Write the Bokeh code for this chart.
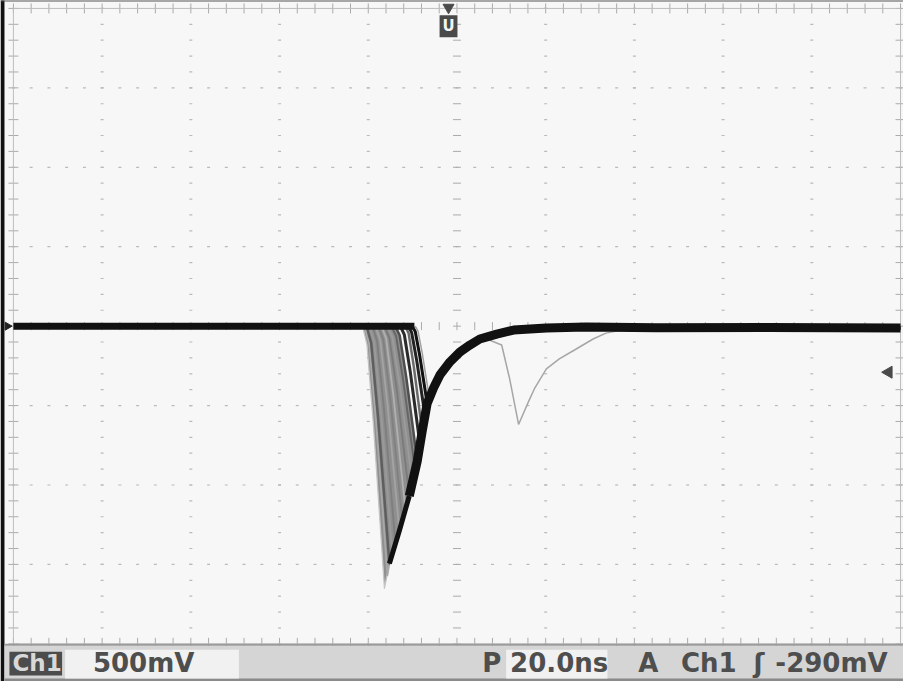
import numpy as np
from bokeh.plotting import figure
from bokeh.models import Range1d
from bokeh.core.properties import value
from bokeh.embed import file_html
from bokeh.resources import INLINE

# ---------------- data (time in ns, voltage in V) ----------------
baseline_t = [-100.0, -9.6]
baseline_v = [0.0, 0.0]

pulse_onset_t = [-21.28, -20.83, -20.38, -19.71, -19.04, -18.37, -17.70, -17.02, -16.35,
                 -15.68, -14.78, -13.89, -12.77, -11.65, -10.98, -10.08, -9.41]
pulse_min_t = [-16.35, -15.68, -15.23, -14.56, -13.89, -12.99, -12.32, -11.65, -10.75,
               -10.08, -9.41, -8.96, -8.29, -7.84, -7.17, -6.72, -6.27]
pulse_min_v = [-1.65, -1.569, -1.494, -1.431, -1.3625, -1.2875, -1.225, -1.15, -1.069,
               -0.9875, -0.9125, -0.85, -0.756, -0.6625, -0.569, -0.4875, -0.444]
pulse_color = ["#c4c4c4", "#a8a8a8", "#5e5e5e", "#9a9a9a", "#7e7e7e", "#a4a4a4", "#808080",
               "#b0b0b0", "#7a7a7a", "#9c9c9c", "#666666", "#4e4e4e", "#2a2a2a", "#6a6a6a",
               "#222222", "#111111", "#a0a0a0"]
pulse_width = [1.3, 1.8, 2.5, 1.8, 1.8, 1.8, 1.8, 1.8, 1.8, 1.8, 2.0, 2.5, 3.0, 2.5, 3.0, 3.0, 1.5]

fall_shape_dt = [0.0, 0.2, 0.5, 0.8, 1.0]
fall_shape_dv = [0.0, 0.07, 0.38, 0.75, 1.0]

recovery_t = [-16.35, -15.23, -12.99, -10.75, -8.96, -7.84, -6.72, -5.15, -3.81, -1.57, 0.67,
              2.91, 5.15, 8.96, 12.77, 20.16, 29.1, 45.0, 70.0, 100.0]
recovery_v = [-1.65, -1.494, -1.288, -1.069, -0.85, -0.6625, -0.4875, -0.381, -0.306, -0.225,
              -0.1625, -0.119, -0.081, -0.05, -0.025, -0.0125, -0.006, -0.01, -0.008, -0.012]

glitch_t = [6.72, 10.08, 11.87, 13.89, 16.13, 17.47, 20.16, 23.07, 26.88, 30.69, 33.6, 38.08]
glitch_v = [-0.081, -0.119, -0.331, -0.619, -0.475, -0.394, -0.269, -0.206, -0.144, -0.081,
            -0.044, -0.019]

trigger_level_v = -0.29
trigger_pos_t = -1.9

div_major_t = [-80, -60, -40, -20, 20, 40, 60, 80]
div_major_v = [-1.5, -1.0, -0.5, 0.5, 1.0, 1.5]

status_ch = "Ch1"
status_scale = "500mV"
status_p = "P"
status_time = "20.0ns"
status_a = "A"
status_trig_ch = "Ch1"
status_slope = "ʃ"
status_trig = "-290mV"

# ---------------- helpers: reference-pixel layout -> data ----------------
def rx(px):
    return -100 + (px - 23) * 200.0 / 893.0

def ry(py):
    return 2 - (py - 14) * 4.0 / 641.0

W, H = 903, 681
p = figure(width=W, height=H, x_range=Range1d(rx(10), rx(919)), y_range=Range1d(ry(693), ry(6)),
           output_backend="svg", toolbar_location=None, x_axis_location=None,
           y_axis_location=None, min_border=0, outline_line_color=None,
           background_fill_color="#f7f7f7", border_fill_color="#ffffff")
p.grid.visible = False

# graticule dots
minor_t = np.round(np.arange(-100, 100.001, 4), 3)
minor_v = np.round(np.arange(-2, 2.0001, 0.1), 3)
gx = np.repeat(div_major_t, len(minor_v))
gy = np.tile(minor_v, len(div_major_t))
p.scatter(gx, gy, marker="dash", size=3, line_color="#bababa", line_width=1.2)
hx = np.tile(minor_t, len(div_major_v))
hy = np.repeat(div_major_v, len(minor_t))
p.scatter(hx, hy, marker="dash", size=3, line_color="#bababa", line_width=1.2)

# centre cross ticks
p.scatter(minor_t, np.zeros_like(minor_t), marker="dash", angle=np.pi / 2, size=8,
          line_color="#ababab", line_width=1)
p.scatter(np.zeros_like(minor_v), minor_v, marker="dash", size=8,
          line_color="#ababab", line_width=1)
# edge ticks
p.scatter(minor_t, np.full_like(minor_t, 2.0), marker="dash", angle=np.pi / 2, size=10,
          line_color="#ababab", line_width=1)
p.scatter(minor_t, np.full_like(minor_t, -2.0), marker="dash", angle=np.pi / 2, size=12,
          line_color="#ababab", line_width=1)
p.scatter(np.full_like(minor_v, -100.0), minor_v, marker="dash", size=10,
          line_color="#ababab", line_width=1)
p.scatter(np.full_like(minor_v, 100.0), minor_v, marker="dash", size=10,
          line_color="#ababab", line_width=1)
p.quad(left=-100, right=100, bottom=-2, top=2, fill_color=None, line_color="#bdbdbd",
       line_width=1)

# pulse family
xs, ys = [], []
for t0, tm, vm in zip(pulse_onset_t, pulse_min_t, pulse_min_v):
    lx = [t0 + f * (tm - t0) for f in fall_shape_dt]
    ly = [f * vm for f in fall_shape_dv]
    xs.append(lx)
    ys.append(ly)
full_xs, full_ys = [], []
for lx, ly, tm in zip(xs, ys, pulse_min_t):
    ex, ey = list(lx), list(ly)
    for rt, rv in zip(recovery_t, recovery_v):
        if rt > tm + 1e-6:
            ex.append(rt)
            ey.append(rv)
    full_xs.append(ex)
    full_ys.append(ey)

# grey envelope of the overlapping early pulses (first pulse edge .. pulse 12 edge)
k_last = 11
env_x = list(xs[0])
env_y = list(ys[0])
for rt, rv in zip(recovery_t, recovery_v):
    if pulse_min_t[0] < rt < pulse_min_t[k_last]:
        env_x.append(rt)
        env_y.append(rv)
env_x += xs[k_last][::-1]
env_y += ys[k_last][::-1]
p.patch(env_x, env_y, fill_color="#8f8f8f", line_color=None)

p.multi_line(full_xs, full_ys, line_color=pulse_color, line_width=pulse_width,
             line_join="round")

# secondary glitch trace
p.line(glitch_t, glitch_v, line_color="#a6a6a6", line_width=1.5)

# common recovery edge & baseline (thick)
p.line(recovery_t[1:4], recovery_v[1:4], line_color="#111111", line_width=5, line_join="round")
p.line(recovery_t[3:], recovery_v[3:], line_color="#111111", line_width=9, line_join="round")
p.line(baseline_t, baseline_v, line_color="#111111", line_width=7)

# trigger position marker
p.scatter([trigger_pos_t], [ry(13)], marker="inverted_triangle", size=11, color="#4a4a4a")
p.quad(left=rx(452), right=rx(470), bottom=ry(43), top=ry(21), fill_color="#4a4a4a",
       line_color=None)
p.text(x=[trigger_pos_t], y=[ry(32)], text=["U"], text_color="#f4f4f4",
       text_font=value("DejaVu Sans"), text_font_style="bold", text_font_size="15px",
       text_align="center", text_baseline="middle")

# trigger level arrow (right)
p.scatter([rx(904)], [trigger_level_v], marker="triangle", angle=np.pi / 2, size=12,
          color="#4a4a4a")

# outer frame
p.quad(left=rx(10), right=rx(14), bottom=ry(697), top=ry(4), fill_color="#111111",
       line_color=None)
p.quad(left=rx(10), right=rx(925), bottom=ry(7), top=ry(4), fill_color="#555555",
       line_color=None)
p.scatter([rx(17)], [0.0], marker="triangle", angle=-np.pi / 2, size=8, color="#222222")

# status bar
p.quad(left=rx(14), right=rx(925), bottom=ry(693), top=ry(657), fill_color="#d5d5d5",
       line_color=None)
p.quad(left=rx(14), right=rx(925), bottom=ry(657), top=ry(655), fill_color="#9a9a9a",
       line_color=None)
p.quad(left=rx(14), right=rx(925), bottom=ry(693), top=ry(690), fill_color="#8a8a8a",
       line_color=None)
p.quad(left=rx(19), right=rx(72), bottom=ry(687), top=ry(663), fill_color="#4c4c4c",
       line_color=None)
p.quad(left=rx(75), right=rx(250), bottom=ry(690), top=ry(661), fill_color="#f1f1f1",
       line_color=None)
p.quad(left=rx(519), right=rx(621), bottom=ry(690), top=ry(661), fill_color="#f1f1f1",
       line_color=None)

font = value("DejaVu Sans")
ty = ry(674)
p.text(x=[rx(22)], y=[ty], text=[status_ch], text_color="#d8d8d8", text_font=font,
       text_font_style="bold", text_font_size="23px", text_baseline="middle")
p.text(x=[rx(103), rx(495), rx(523), rx(652), rx(695), rx(768), rx(790)],
       y=[ty] * 7,
       text=[status_scale, status_p, status_time, status_a, status_trig_ch, status_slope,
             status_trig],
       text_color="#4e4e4e", text_font=font, text_font_style="bold", text_font_size="26px",
       text_baseline="middle")

open("out.html", "w").write(file_html(p, INLINE))
